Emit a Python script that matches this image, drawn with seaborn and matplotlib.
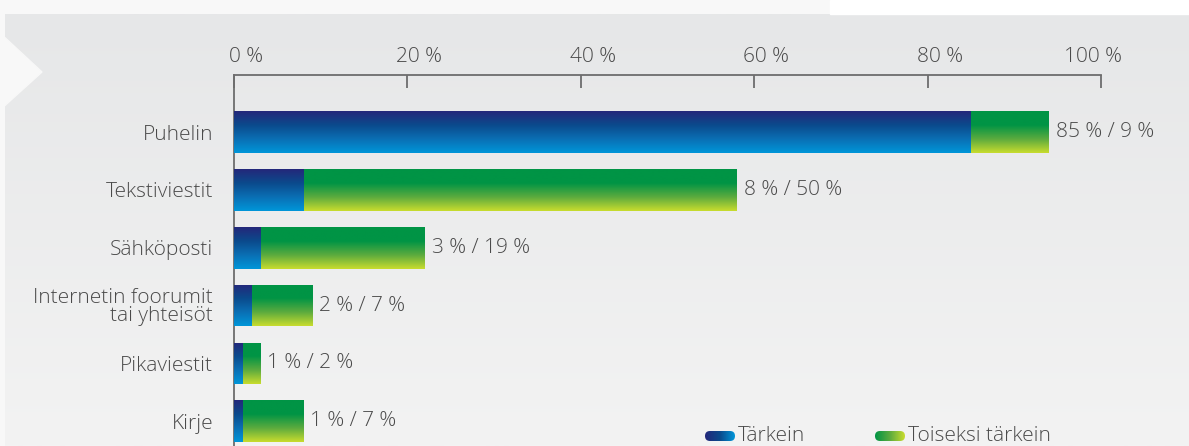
import numpy as np
import pandas as pd
import matplotlib.pyplot as plt
import matplotlib.transforms as mtransforms
import seaborn as sns
from matplotlib.colors import LinearSegmentedColormap
from matplotlib.patches import Rectangle, Polygon, FancyBboxPatch

# Data (percent)
kanavat = ["Puhelin", "Tekstiviestit", "Sähköposti",
           "Internetin foorumit\ntai yhteisöt", "Pikaviestit", "Kirje"]
tarkein = [85, 8, 3, 2, 1, 1]
toiseksi = [9, 50, 19, 7, 2, 7]
x_ticks = [0, 20, 40, 60, 80, 100]
legend_labels = ["Tärkein", "Toiseksi tärkein"]

df = pd.DataFrame({"kanava": kanavat, "tarkein": tarkein, "toiseksi": toiseksi})
df["yhteensa"] = df["tarkein"] + df["toiseksi"]

sns.set_theme(style="white")
plt.rcParams["font.family"] = ["Open Sans", "DejaVu Sans"]
plt.rcParams["font.weight"] = "light"
text_col = "#4a4a4a"
fs = 15

blue_cmap = LinearSegmentedColormap.from_list("sin", ["#24277a", "#0b4a8c", "#0a6fb4", "#0096d9"])
green_cmap = LinearSegmentedColormap.from_list("vih", ["#009445", "#009445", "#5cab3e", "#c9dc2e"])
bg_cmap = LinearSegmentedColormap.from_list("bg", ["#e6e7e8", "#f3f3f3"])

fig = plt.figure(figsize=(11.89, 4.46), dpi=100)

# taustapaneeli
bg = fig.add_axes([0, 0, 1, 1], zorder=0)
bg.set_xlim(0, 1189)
bg.set_ylim(446, 0)
bg.axis("off")
bg.add_patch(Rectangle((0, 0), 1189, 446, color="#f8f8f8", zorder=0))
grad = np.linspace(0, 1, 256).reshape(-1, 1)
bg.imshow(grad, extent=(5, 1189, 446, 14), aspect="auto", cmap=bg_cmap, zorder=1)
bg.add_patch(Rectangle((830, 0), 359, 14, color="white", zorder=2))
bg.add_patch(Polygon([(0, 33), (42, 72), (0, 110)], closed=True, color="#f8f8f8", zorder=2))

# pääkaavio
ax = fig.add_axes([234 / 1189, 0, 867 / 1189, 371 / 446], zorder=1)
ax.patch.set_alpha(0)
sns.barplot(data=df, y="kanava", x="yhteensa", color="#009445", width=0.72, ax=ax, orient="h")
sns.barplot(data=df, y="kanava", x="tarkein", color="#0b4a8c", width=0.72, ax=ax, orient="h")

n = len(df)
for i, p in enumerate(ax.patches):
    cmap = green_cmap if i < n else blue_cmap
    x0, y0, w, h = p.get_x(), p.get_y(), p.get_width(), p.get_height()
    im = ax.imshow(grad, extent=(x0, x0 + w, y0 + h, y0), aspect="auto", cmap=cmap,
                   zorder=3 if i < n else 4)
    im.set_clip_path(p)
    p.set_edgecolor("none")

for i, row in df.iterrows():
    ax.text(row["yhteensa"] + 0.8, i, f"{row['tarkein']} % / {row['toiseksi']} %",
            va="center", ha="left", fontsize=fs, color=text_col, zorder=5)

ax.set_xlim(0, 100)
ax.set_ylim(5.43, -0.99)
ax.set_xlabel("")
ax.set_ylabel("")
ax.xaxis.tick_top()
ax.set_xticks(x_ticks)
ax.set_xticklabels([f"{t} %" for t in x_ticks])
ax.tick_params(axis="x", direction="in", length=9, width=1.3, color="#6d6d6d",
               labelsize=fs, labelcolor=text_col, pad=6)
ax.tick_params(axis="y", length=0, labelsize=fs, labelcolor=text_col, pad=15)
# tick-tekstit hieman sivussa kuten alkuperäisessä
for j, lab in enumerate(ax.get_xticklabels()):
    dx = -8 if j == len(x_ticks) - 1 else 12
    lab.set_transform(lab.get_transform() + mtransforms.ScaledTranslation(dx / 100, 0, fig.dpi_scale_trans))
for lab in ax.get_yticklabels():
    lab.set_linespacing(0.85)
for s in ["right", "bottom"]:
    ax.spines[s].set_visible(False)
for s in ["top", "left"]:
    ax.spines[s].set_color("#6d6d6d")
    ax.spines[s].set_linewidth(1.3)

# selite
hgrad = np.linspace(0, 1, 256).reshape(1, -1)
leg_blue = LinearSegmentedColormap.from_list("lb", ["#24277a", "#0b4a8c", "#0096d9"])
leg_green = LinearSegmentedColormap.from_list("lg", ["#009445", "#5cab3e", "#c9dc2e"])
for x0, cm, lab in [(705, leg_blue, legend_labels[0]), (875, leg_green, legend_labels[1])]:
    pill = FancyBboxPatch((x0, 431), 30, 10, boxstyle="round,pad=0,rounding_size=5",
                          facecolor="none", edgecolor="none", zorder=3)
    bg.add_patch(pill)
    im = bg.imshow(hgrad, extent=(x0, x0 + 30, 441, 431), aspect="auto", cmap=cm, zorder=3)
    im.set_clip_path(pill)
    bg.text(x0 + 33, 436, lab, va="center", ha="left", fontsize=fs, color=text_col, zorder=3)
bg.set_xlim(0, 1189)
bg.set_ylim(446, 0)

fig.savefig("out.png", dpi=100)
